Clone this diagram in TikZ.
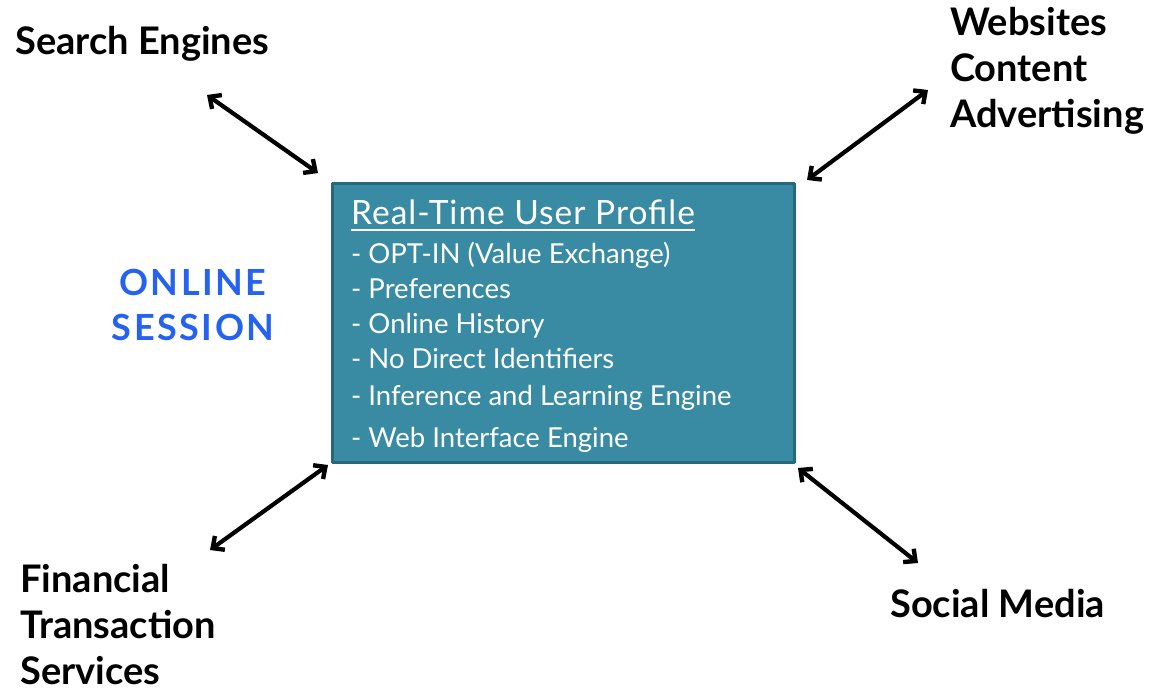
\documentclass[tikz,border=0pt]{standalone}
\usepackage{fontspec}
\setmainfont{Lato}
\usetikzlibrary{arrows.meta}

\definecolor{profilefill}{RGB}{57,139,163}
\definecolor{profileedge}{RGB}{38,104,124}
\definecolor{sessionblue}{RGB}{38,98,240}

\tikzset{
  party/.style={anchor=base west, inner sep=0pt, align=left,
    font=\fontsize{38}{46}\selectfont\bfseries},
  item/.style={anchor=base west, inner sep=0pt, text=white,
    font=\fontsize{27.5}{30}\selectfont},
  barbtip/.tip={Straight Barb[length=9pt,width=17pt,line width=4.4pt]},
  link/.style={line width=4.2pt, barbtip-barbtip}
}

\begin{document}
\begin{tikzpicture}[x=1pt, y=-1pt, line join=round]

  %% ════ 中间的框 ════
  \node[draw=profileedge, fill=profilefill, line width=2.5pt,
        minimum width=462pt, minimum height=279pt, inner sep=0pt]
        (profile) at (563.5,323.0) {};

  \node[item, font=\fontsize{33.5}{36}\selectfont\addfontfeature{LetterSpace=3}]
        (title) at (351.0,225.0) {Real-Time User Profile};
  \draw[white, line width=1.8pt] ([yshift=-5pt]title.base west) -- ([yshift=-5pt]title.base east);

  \node[item] (optin)    at (351.0,263.0) {- OPT-IN (Value Exchange)};
  \node[item] (prefs)    at (351.0,298.0) {- Preferences};
  \node[item] (history)  at (351.0,333.0) {- Online History};
  \node[item] (noid)     at (351.0,368.0) {- No Direct Identifiers};
  \node[item] (infer)    at (351.0,405.0) {- Inference and Learning Engine};
  \node[item] (webif)    at (351.0,447.0) {- Web Interface Engine};

  %% ════ 四周的标签（多行的 base 取最后一行）════
  \node[party] (search)    at (15.0,55.0)   {Search Engines};
  \node[party] (websites)  at (950.0,128.0) {Websites\\Content\\Advertising};
  \node[party] (financial) at (20.0,684.0)  {Financial\\Transaction\\Services};
  \node[party] (social)    at (890.0,617.0) {Social Media};

  \node[anchor=center, inner sep=0pt, align=center, text=sessionblue,
        font=\fontsize{36}{45}\selectfont\bfseries\addfontfeature{LetterSpace=7}]
        (session) at (193.0,305.0) {ONLINE\\SESSION};

  %% ════ 双向箭头的端点 ════
  \coordinate (search-end)    at (207.0,95.0);
  \coordinate (search-box)    at (318.0,173.0);
  \coordinate (websites-end)  at (928.0,90.0);
  \coordinate (websites-box)  at (807.0,180.0);
  \coordinate (financial-end) at (210.0,550.0);
  \coordinate (financial-box) at (328.0,465.0);
  \coordinate (social-end)    at (918.0,563.0);
  \coordinate (social-box)    at (798.0,468.0);

  \draw[link] (search-end) -- (search-box);
  \draw[link] (websites-box) -- (websites-end);
  \draw[link] (financial-end) -- (financial-box);
  \draw[link] (social-box) -- (social-end);

  % 画布固定为 1163 x 690
  \pgfresetboundingbox
  \path[use as bounding box] (0,0) rectangle (1163,690);
\end{tikzpicture}
\end{document}
